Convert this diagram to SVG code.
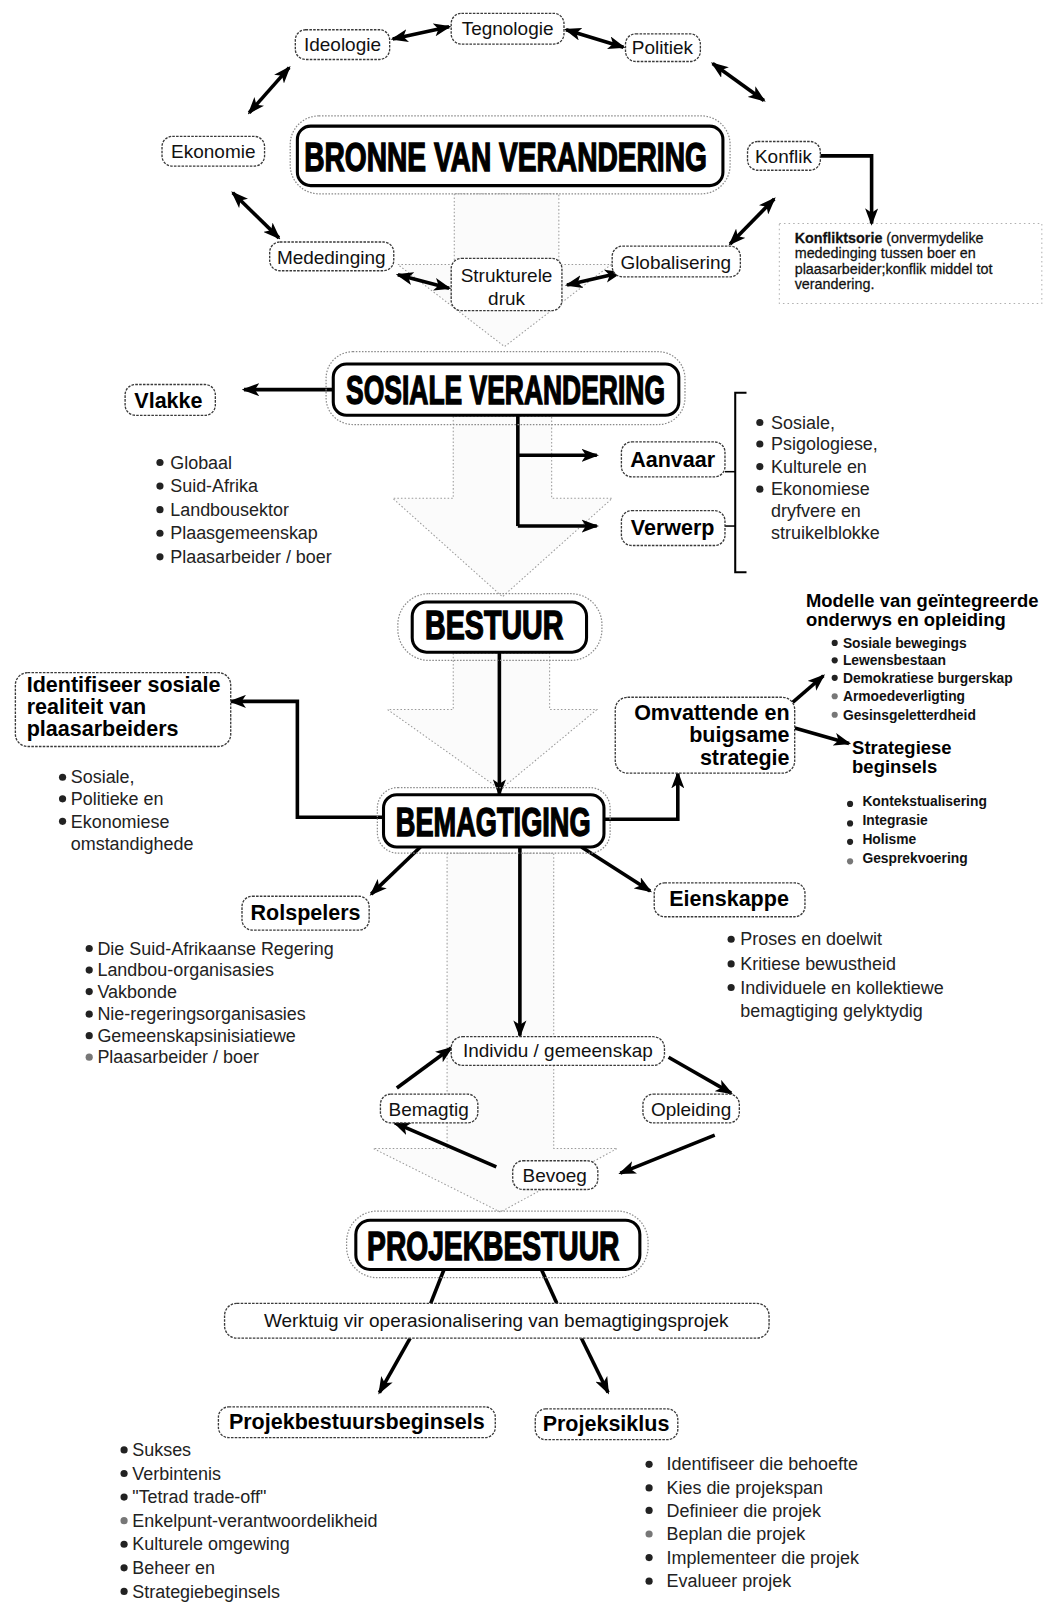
<svg xmlns="http://www.w3.org/2000/svg" width="1049" height="1608" viewBox="0 0 1049 1608">
<style>
.bg{fill:#fff}
.ghost{fill:#fbfbfb;stroke:#9a9a9a;stroke-width:1;stroke-dasharray:1.5 2}
.outer{fill:none;stroke:#8a8a8a;stroke-width:1.2;stroke-dasharray:1.5 1.5}
.inner{fill:#fff;stroke:#000;stroke-width:3}
.box{fill:#fff;stroke:#3a3a3a;stroke-width:1.3;stroke-dasharray:2.5 1.2}
.frame{fill:none;stroke:#b0b0b0;stroke-width:1;stroke-dasharray:1.5 3}
.big{font-family:"Liberation Sans",Arial,sans-serif;font-weight:bold;font-size:40px;fill:#000;stroke:#000;stroke-width:1.4;text-anchor:middle}
.lbl{font-family:"Liberation Sans",Arial,sans-serif;font-size:18.5px;fill:#111}
.blbl{font-family:"Liberation Sans",Arial,sans-serif;font-size:21px;font-weight:bold;fill:#000}
.li{font-family:"Liberation Sans",Arial,sans-serif;font-size:17.5px;fill:#222}
.sm{font-family:"Liberation Sans",Arial,sans-serif;font-size:13.5px;font-weight:bold;fill:#111}
.hd{font-family:"Liberation Sans",Arial,sans-serif;font-size:18px;font-weight:bold;fill:#000}
.note{font-family:"Liberation Sans",Arial,sans-serif;font-size:14px;fill:#111;stroke:#111;stroke-width:0.25}
.c{text-anchor:middle}
.e{text-anchor:end}
.ln{fill:none;stroke:#000;stroke-width:3.5}
.ar{marker-end:url(#ah)}
.da{marker-start:url(#ah);marker-end:url(#ah)}
.dot{fill:#222}
.dotl{fill:#777}
</style>
<defs>
<marker id="ah" viewBox="0 0 16 12" refX="14" refY="6" markerWidth="17" markerHeight="13" markerUnits="userSpaceOnUse" orient="auto-start-reverse">
<path d="M0,0 L16,6 L0,12 L4,6 z" fill="#000"/>
</marker>
</defs>
<rect class="bg" x="0" y="0" width="1049" height="1608"/>
<g transform="scale(1.02542)">

<g id="ghost-arrows">
<path class="ghost" d="M443,189 L443,258 L388,258 L492,338 L596,258 L545,258 L545,189 Z"/>
<path class="ghost" d="M442,406 L442,486 L383,486 L490,582 L597,486 L538,486 L538,406 Z"/>
<path class="ghost" d="M442,637 L442,692 L378,692 L488,770 L582,692 L536,692 L536,637 Z"/>
<path class="ghost" d="M436,832 L436,1120 L364,1120 L488,1182 L602,1120 L540,1120 L540,832 Z"/>
<rect class="frame" x="760" y="218" width="256" height="78"/>
</g>

<g id="connectors">
<line class="ln da" x1="383" y1="38" x2="438" y2="26"/>
<line class="ln da" x1="552" y1="29" x2="608" y2="46"/>
<line class="ln da" x1="695" y1="62" x2="745" y2="98"/>
<line class="ln da" x1="282" y1="66" x2="243" y2="110"/>
<line class="ln da" x1="227" y1="188" x2="272" y2="232"/>
<line class="ln da" x1="388" y1="268" x2="438" y2="281"/>
<line class="ln da" x1="553" y1="278" x2="605" y2="266"/>
<line class="ln da" x1="712" y1="238" x2="755" y2="194"/>
<polyline class="ln ar" points="800,152 850,152 850,218"/>
<line class="ln ar" x1="325" y1="380" x2="238" y2="380"/>
<polyline class="ln" points="505,405 505,513"/>
<line class="ln ar" x1="505" y1="444" x2="582" y2="444"/>
<line class="ln ar" x1="505" y1="513" x2="582" y2="513"/>
<line x1="707" y1="460" x2="717" y2="460" stroke="#000" stroke-width="1.5"/>
<line x1="707" y1="513" x2="717" y2="513" stroke="#000" stroke-width="1.5"/>
<polyline points="728,383 717,383 717,558 728,558" fill="none" stroke="#000" stroke-width="2"/>
<line class="ln ar" x1="487" y1="636" x2="487" y2="775"/>
<polyline class="ln ar" points="374,797 290,797 290,684 225,684"/>
<polyline class="ln ar" points="589,799 661,799 661,754"/>
<line class="ln ar" x1="773" y1="685" x2="803" y2="659"/>
<line class="ln ar" x1="775" y1="710" x2="828" y2="725"/>
<line class="ln ar" x1="410" y1="826" x2="362" y2="872"/>
<line class="ln ar" x1="567" y1="826" x2="634" y2="869"/>
<line class="ln ar" x1="507" y1="826" x2="507" y2="1010"/>
<line class="ln ar" x1="387" y1="1061" x2="440" y2="1022"/>
<line class="ln ar" x1="652" y1="1031" x2="713" y2="1066"/>
<line class="ln ar" x1="697" y1="1107" x2="605" y2="1144"/>
<line class="ln ar" x1="484" y1="1138" x2="385" y2="1095"/>
<line class="ln" x1="433" y1="1238" x2="420" y2="1271"/>
<line class="ln" x1="528" y1="1238" x2="543" y2="1271"/>
<line class="ln ar" x1="400" y1="1305" x2="370" y2="1358"/>
<line class="ln ar" x1="567" y1="1305" x2="593" y2="1358"/>
</g>

<g id="n-ideologie"><rect class="box" x="288" y="29" width="92" height="29" rx="10"/><text class="lbl c" x="334" y="50">Ideologie</text></g>
<g id="n-tegnologie"><rect class="box" x="440" y="13" width="110" height="30" rx="10"/><text class="lbl c" x="495" y="34">Tegnologie</text></g>
<g id="n-politiek"><rect class="box" x="610" y="33" width="73" height="27" rx="10"/><text class="lbl c" x="646" y="53">Politiek</text></g>
<g id="n-ekonomie"><rect class="box" x="158" y="133" width="100" height="29" rx="10"/><text class="lbl c" x="208" y="154">Ekonomie</text></g>
<g id="n-konflik"><rect class="box" x="729" y="138" width="71" height="28" rx="10"/><text class="lbl c" x="764" y="159">Konflik</text></g>
<g id="n-mededinging"><rect class="box" x="263" y="236" width="121" height="28" rx="10"/><text class="lbl c" x="323" y="257">Mededinging</text></g>
<g id="n-strukturele"><rect class="box" x="440" y="252" width="108" height="51" rx="10"/><text class="lbl c" x="494" y="275">Strukturele</text><text class="lbl c" x="494" y="297">druk</text></g>
<g id="n-globalisering"><rect class="box" x="597" y="240" width="125" height="30" rx="10"/><text class="lbl c" x="659" y="262">Globalisering</text></g>

<g id="n-bronne">
<rect class="outer" x="283" y="113" width="429" height="76" rx="28"/>
<rect class="inner" x="290" y="123" width="415" height="58" rx="13"/>
<text class="big" transform="translate(493,167) scale(0.686,1)" x="0" y="0">BRONNE VAN VERANDERING</text>
</g>

<g id="n-konfliktsorie">
<text class="note" x="775" y="237"><tspan font-weight="bold">Konfliktsorie</tspan> (onvermydelike</text>
<text class="note" x="775" y="252">mededinging tussen boer en</text>
<text class="note" x="775" y="267">plaasarbeider;konflik middel tot</text>
<text class="note" x="775" y="282">verandering.</text>
</g>

<g id="n-sosiale">
<rect class="outer" x="318" y="343" width="350" height="71" rx="26"/>
<rect class="inner" x="325" y="355" width="337" height="50" rx="13"/>
<text class="big" transform="translate(493,394) scale(0.645,1)" x="0" y="0">SOSIALE VERANDERING</text>
</g>

<g id="n-vlakke"><rect class="box" x="122" y="375" width="88" height="30" rx="10"/><text class="blbl" x="131" y="398">Vlakke</text></g>
<g id="n-vlakke-list">
<circle class="dot" cx="156" cy="451" r="3.5"/><text class="li" x="166" y="457">Globaal</text>
<circle class="dot" cx="156" cy="474" r="3.5"/><text class="li" x="166" y="480">Suid-Afrika</text>
<circle class="dot" cx="156" cy="497" r="3.5"/><text class="li" x="166" y="503">Landbousektor</text>
<circle class="dot" cx="156" cy="520" r="3.5"/><text class="li" x="166" y="526">Plaasgemeenskap</text>
<circle class="dot" cx="156" cy="543" r="3.5"/><text class="li" x="166" y="549">Plaasarbeider / boer</text>
</g>

<g id="n-aanvaar"><rect class="box" x="606" y="431" width="101" height="34" rx="10"/><text class="blbl c" x="656" y="455">Aanvaar</text></g>
<g id="n-verwerp"><rect class="box" x="606" y="498" width="101" height="34" rx="10"/><text class="blbl c" x="656" y="522">Verwerp</text></g>
<g id="n-dryfvere">
<circle class="dot" cx="741" cy="412" r="3.5"/><text class="li" x="752" y="418">Sosiale,</text>
<circle class="dot" cx="741" cy="433" r="3.5"/><text class="li" x="752" y="439">Psigologiese,</text>
<circle class="dot" cx="741" cy="455" r="3.5"/><text class="li" x="752" y="461">Kulturele en</text>
<circle class="dot" cx="741" cy="477" r="3.5"/><text class="li" x="752" y="483">Ekonomiese</text>
<text class="li" x="752" y="504">dryfvere en</text>
<text class="li" x="752" y="526">struikelblokke</text>
</g>

<g id="n-bestuur">
<rect class="outer" x="388" y="579" width="199" height="65" rx="30"/>
<rect class="inner" x="402" y="587" width="170" height="49" rx="14"/>
<text class="big" transform="translate(482,623) scale(0.698,1)" x="0" y="0">BESTUUR</text>
</g>

<g id="n-identifiseer">
<rect class="box" x="15" y="656" width="210" height="72" rx="12"/>
<text class="blbl" x="26" y="675">Identifiseer sosiale</text>
<text class="blbl" x="26" y="696">realiteit van</text>
<text class="blbl" x="26" y="718">plaasarbeiders</text>
</g>
<g id="n-identifiseer-list">
<circle class="dot" cx="61" cy="758" r="3.5"/><text class="li" x="69" y="764">Sosiale,</text>
<circle class="dot" cx="61" cy="779" r="3.5"/><text class="li" x="69" y="785">Politieke en</text>
<circle class="dot" cx="61" cy="801" r="3.5"/><text class="li" x="69" y="807">Ekonomiese</text>
<text class="li" x="69" y="829">omstandighede</text>
</g>

<g id="n-omvattende">
<rect class="box" x="600" y="680" width="175" height="74" rx="12"/>
<text class="blbl e" x="770" y="702">Omvattende en</text>
<text class="blbl e" x="770" y="724">buigsame</text>
<text class="blbl e" x="770" y="746">strategie</text>
</g>
<g id="n-modelle">
<text class="hd" x="786" y="592">Modelle van geïntegreerde</text>
<text class="hd" x="786" y="610">onderwys en opleiding</text>
<circle class="dot" cx="814" cy="627" r="3"/><text class="sm" x="822" y="632">Sosiale bewegings</text>
<circle class="dot" cx="814" cy="644" r="3"/><text class="sm" x="822" y="649">Lewensbestaan</text>
<circle class="dot" cx="814" cy="661" r="3"/><text class="sm" x="822" y="666">Demokratiese burgerskap</text>
<circle class="dotl" cx="814" cy="679" r="3"/><text class="sm" x="822" y="684">Armoedeverligting</text>
<circle class="dotl" cx="814" cy="697" r="3"/><text class="sm" x="822" y="702">Gesinsgeletterdheid</text>
</g>
<g id="n-strategiese">
<text class="hd" x="831" y="735">Strategiese</text>
<text class="hd" x="831" y="754">beginsels</text>
<circle class="dot" cx="829" cy="784" r="3"/><text class="sm" x="841" y="786">Kontekstualisering</text>
<circle class="dot" cx="829" cy="803" r="3"/><text class="sm" x="841" y="805">Integrasie</text>
<circle class="dot" cx="829" cy="821" r="3"/><text class="sm" x="841" y="823">Holisme</text>
<circle class="dotl" cx="829" cy="840" r="3"/><text class="sm" x="841" y="842">Gesprekvoering</text>
</g>

<g id="n-bemagtiging">
<rect class="outer" x="368" y="768" width="227" height="64" rx="20"/>
<rect class="inner" x="374" y="775" width="215" height="51" rx="13"/>
<text class="big" transform="translate(481,815) scale(0.663,1)" x="0" y="0">BEMAGTIGING</text>
</g>

<g id="n-rolspelers"><rect class="box" x="236" y="874" width="124" height="33" rx="10"/><text class="blbl c" x="298" y="897">Rolspelers</text></g>
<g id="n-rolspelers-list">
<circle class="dot" cx="87" cy="925" r="3.5"/><text class="li" x="95" y="931">Die Suid-Afrikaanse Regering</text>
<circle class="dot" cx="87" cy="946" r="3.5"/><text class="li" x="95" y="952">Landbou-organisasies</text>
<circle class="dot" cx="87" cy="967" r="3.5"/><text class="li" x="95" y="973">Vakbonde</text>
<circle class="dot" cx="87" cy="989" r="3.5"/><text class="li" x="95" y="995">Nie-regeringsorganisasies</text>
<circle class="dot" cx="87" cy="1010" r="3.5"/><text class="li" x="95" y="1016">Gemeenskapsinisiatiewe</text>
<circle class="dotl" cx="87" cy="1031" r="3.5"/><text class="li" x="95" y="1037">Plaasarbeider / boer</text>
</g>

<g id="n-eienskappe"><rect class="box" x="638" y="861" width="147" height="33" rx="10"/><text class="blbl c" x="711" y="884">Eienskappe</text></g>
<g id="n-eienskappe-list">
<circle class="dot" cx="713" cy="916" r="3.5"/><text class="li" x="722" y="922">Proses en doelwit</text>
<circle class="dot" cx="713" cy="940" r="3.5"/><text class="li" x="722" y="946">Kritiese bewustheid</text>
<circle class="dot" cx="713" cy="963" r="3.5"/><text class="li" x="722" y="969">Individuele en kollektiewe</text>
<text class="li" x="722" y="992">bemagtiging gelyktydig</text>
</g>

<g id="n-individu"><rect class="box" x="440" y="1011" width="208" height="28" rx="11"/><text class="lbl c" x="544" y="1031">Individu / gemeenskap</text></g>
<g id="n-bemagtig"><rect class="box" x="371" y="1067" width="95" height="28" rx="10"/><text class="lbl c" x="418" y="1088">Bemagtig</text></g>
<g id="n-opleiding"><rect class="box" x="627" y="1067" width="94" height="28" rx="10"/><text class="lbl c" x="674" y="1088">Opleiding</text></g>
<g id="n-bevoeg"><rect class="box" x="500" y="1132" width="83" height="28" rx="10"/><text class="lbl c" x="541" y="1153">Bevoeg</text></g>

<g id="n-projekbestuur">
<rect class="outer" x="338" y="1181" width="294" height="65" rx="30"/>
<rect class="inner" x="347" y="1190" width="277" height="48" rx="14"/>
<text class="big" transform="translate(481,1229) scale(0.688,1)" x="0" y="0">PROJEKBESTUUR</text>
</g>

<g id="n-werktuig"><rect class="box" x="219" y="1271" width="531" height="34" rx="12"/><text class="lbl c" x="484" y="1294">Werktuig vir operasionalisering van bemagtigingsprojek</text></g>

<g id="n-pbb"><rect class="box" x="213" y="1372" width="270" height="30" rx="10"/><text class="blbl c" x="348" y="1394">Projekbestuursbeginsels</text></g>
<g id="n-pbb-list">
<circle class="dot" cx="121" cy="1414" r="3.5"/><text class="li" x="129" y="1420">Sukses</text>
<circle class="dot" cx="121" cy="1437" r="3.5"/><text class="li" x="129" y="1443">Verbintenis</text>
<circle class="dot" cx="121" cy="1460" r="3.5"/><text class="li" x="129" y="1466">"Tetrad trade-off"</text>
<circle class="dotl" cx="121" cy="1483" r="3.5"/><text class="li" x="129" y="1489">Enkelpunt-verantwoordelikheid</text>
<circle class="dot" cx="121" cy="1506" r="3.5"/><text class="li" x="129" y="1512">Kulturele omgewing</text>
<circle class="dot" cx="121" cy="1529" r="3.5"/><text class="li" x="129" y="1535">Beheer en</text>
<circle class="dot" cx="121" cy="1552" r="3.5"/><text class="li" x="129" y="1558">Strategiebeginsels</text>
</g>

<g id="n-projeksiklus"><rect class="box" x="522" y="1374" width="139" height="30" rx="10"/><text class="blbl c" x="591" y="1396">Projeksiklus</text></g>
<g id="n-projeksiklus-list">
<circle class="dot" cx="633" cy="1428" r="3.5"/><text class="li" x="650" y="1434">Identifiseer die behoefte</text>
<circle class="dot" cx="633" cy="1451" r="3.5"/><text class="li" x="650" y="1457">Kies die projekspan</text>
<circle class="dot" cx="633" cy="1473" r="3.5"/><text class="li" x="650" y="1479">Definieer die projek</text>
<circle class="dotl" cx="633" cy="1496" r="3.5"/><text class="li" x="650" y="1502">Beplan die projek</text>
<circle class="dot" cx="633" cy="1519" r="3.5"/><text class="li" x="650" y="1525">Implementeer die projek</text>
<circle class="dot" cx="633" cy="1542" r="3.5"/><text class="li" x="650" y="1548">Evalueer projek</text>
</g>

</g>
</svg>
